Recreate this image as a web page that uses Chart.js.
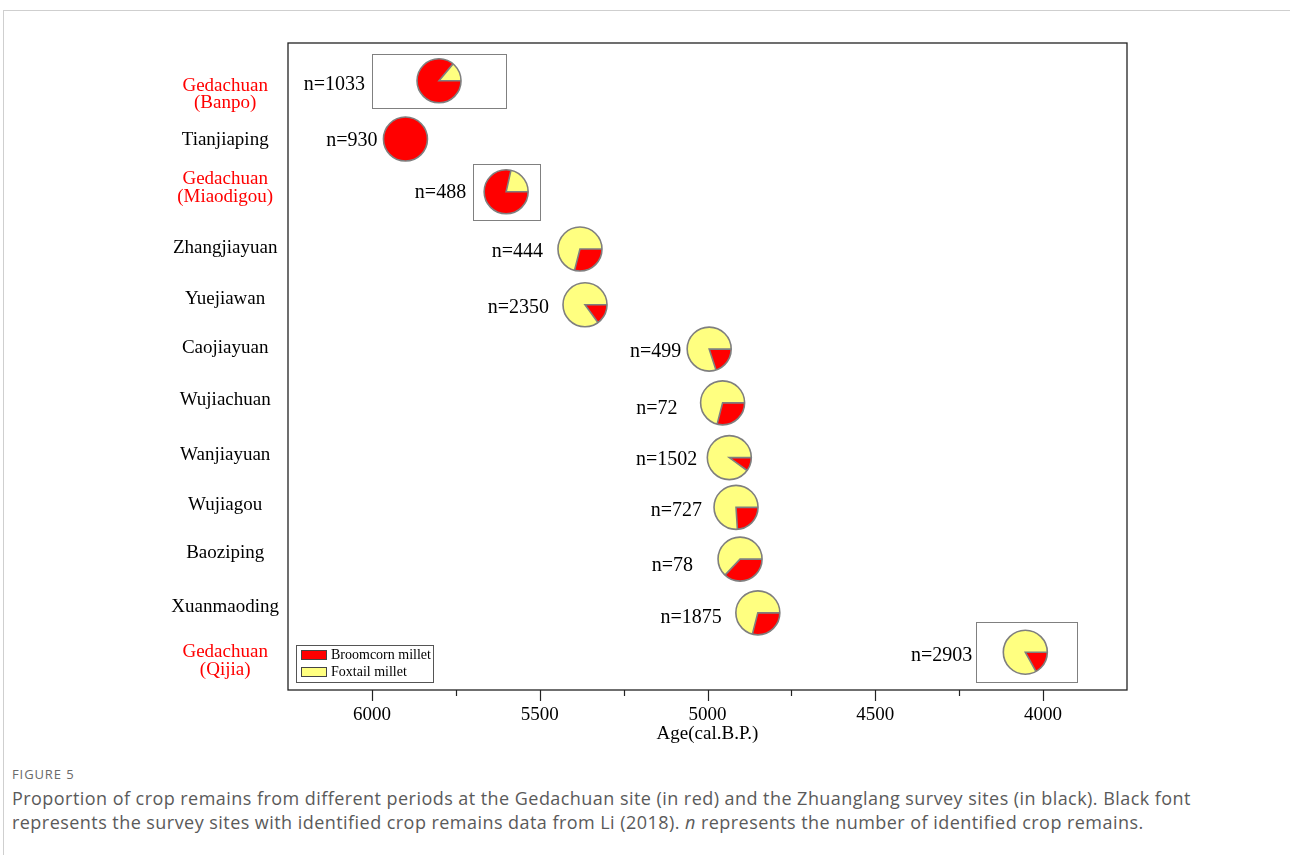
<!DOCTYPE html>
<html>
<head>
<meta charset="utf-8">
<script src="https://cdn.jsdelivr.net/npm/chart.js@4/dist/chart.umd.min.js"></script>
<style>
    html, body { margin: 0; padding: 0; background: #fff; }
    body { width: 1290px; height: 855px; position: relative; overflow: hidden; }
    .card { position: absolute; left: 3px; top: 10px; width: 1300px; height: 900px;
            border-top: 1px solid #cfcfcf; border-left: 1px solid #cfcfcf; }
    .chart-box { position: absolute; left: 0; top: 0; width: 1290px; height: 745px; }
    .fig-label { position: absolute; left: 12px; top: 765px; font-family: "Open Sans", sans-serif;
                 font-size: 13px; letter-spacing: 0.9px; color: #6a6a6a; }
    .fig-caption { position: absolute; left: 12px; top: 786px; width: 1215px; font-family: "Open Sans", sans-serif;
                   font-size: 18px; letter-spacing: 0.45px; line-height: 24px; color: #5a5a5a; }
</style>
</head>
<body>
<div class="card"></div>
<div class="chart-box"><canvas id="crop-chart" width="1290" height="745"></canvas></div>
<div class="fig-label">FIGURE 5</div>
<div class="fig-caption">Proportion of crop remains from different periods at the Gedachuan site (in red) and the Zhuanglang survey sites (in black). Black font represents the survey sites with identified crop remains data from Li (2018). <i>n</i> represents the number of identified crop remains.</div>

<script>
// Sites, top to bottom
const siteLabels = [
    ['Gedachuan', '(Banpo)'], 'Tianjiaping', ['Gedachuan', '(Miaodigou)'], 'Zhangjiayuan',
    'Yuejiawan', 'Caojiayuan', 'Wujiachuan', 'Wanjiayuan', 'Wujiagou', 'Baoziping',
    'Xuanmaoding', ['Gedachuan', '(Qijia)']
];
const isGedachuan = [true, false, true, false, false, false, false, false, false, false, false, true];

// Age of each site (cal. B.P.) and number of identified remains
const siteAges = [5800, 5900, 5600, 5380, 5365, 4995, 4955, 4935, 4915, 4903, 4850, 4053];
const remainCounts = [1033, 930, 488, 444, 2350, 499, 72, 1502, 727, 78, 1875, 2903];

// Share of each crop
const broomcornShare = [0.86, 1.00, 0.785, 0.29, 0.15, 0.20, 0.29, 0.10, 0.24, 0.37, 0.29, 0.17];
const foxtailShare   = [0.14, 0.00, 0.215, 0.71, 0.85, 0.80, 0.71, 0.90, 0.76, 0.63, 0.71, 0.83];

// Row of each label and of each pie on the (reversed) y axis
const labelRows = [1.03, 1.95, 2.91, 4.12, 5.14, 6.13, 7.17, 8.28, 9.28, 10.25, 11.33, 12.42];
const pieRows = [0.76, 1.93, 2.99, 4.14, 5.26, 6.15, 7.23, 8.33, 9.33, 10.37, 11.45, 12.24];

// Cultural periods boxed for the Gedachuan samples (cal. B.P.)
const periodFrom = [6000, null, 5700, null, null, null, null, null, null, null, null, 4200];
const periodTo   = [5600, null, 5500, null, null, null, null, null, null, null, null, 3900];

// Axis ticks
const majorTicks = [6000, 5500, 5000, 4500, 4000];
const minorTicks = [5750, 5250, 4750, 4250];

const cropNames = ['Broomcorn millet', 'Foxtail millet'];

// Styles
const RED = '#ff0000';
const YELLOW = '#ffff80';
const PIE_EDGE = '#7f7f7f';
const PIE_R = 22;
const SERIF = '"Liberation Serif", "Times New Roman", serif';
const labelGap = [52, 6, 18, 15, 14, 6, 23, 10, 12, 25, 14, 31];
const labelDy = [4, 2, 1, 3, 3, 3, 6, 2, 3, 7, 5, 4];
const boxHalf = [27, 0, 28, 0, 0, 0, 0, 0, 0, 0, 0, 30];

// Draws the frame, axis ticks, boxes, pies, n labels and legend
const piePlugin = {
    id: 'pies',
    afterDraw(chart) {
        const ctx = chart.ctx;
        const area = chart.chartArea;
        const xs = chart.scales.x;
        const points = chart.getDatasetMeta(0).data;

        ctx.save();

        // plot frame
        ctx.strokeStyle = '#222';
        ctx.lineWidth = 1.3;
        ctx.strokeRect(area.left, area.top, area.right - area.left, area.bottom - area.top);

        // x ticks below the axis
        ctx.lineWidth = 1.2;
        majorTicks.forEach(v => {
            const px = Math.round(xs.getPixelForValue(v)) + 0.5;
            ctx.beginPath();
            ctx.moveTo(px, area.bottom);
            ctx.lineTo(px, area.bottom + 11);
            ctx.stroke();
        });
        minorTicks.forEach(v => {
            const px = Math.round(xs.getPixelForValue(v)) + 0.5;
            ctx.beginPath();
            ctx.moveTo(px, area.bottom);
            ctx.lineTo(px, area.bottom + 6);
            ctx.stroke();
        });

        points.forEach((pt, i) => {
            const cx = pt.x;
            const cy = pt.y;

            // period box
            if (periodFrom[i] !== null) {
                const x1 = xs.getPixelForValue(periodFrom[i]);
                const x2 = xs.getPixelForValue(periodTo[i]);
                ctx.strokeStyle = '#808080';
                ctx.lineWidth = 1;
                ctx.strokeRect(Math.round(x1) + 0.5, Math.round(cy - boxHalf[i]) + 0.5,
                    Math.round(x2 - x1), Math.round(boxHalf[i] * 2));
            }

            // pie: broomcorn from 3 o'clock clockwise, then foxtail
            const a1 = 2 * Math.PI * broomcornShare[i];
            const a2 = a1 + 2 * Math.PI * foxtailShare[i];
            if (broomcornShare[i] > 0) {
                ctx.beginPath();
                ctx.moveTo(cx, cy);
                ctx.arc(cx, cy, PIE_R, 0, a1);
                ctx.closePath();
                ctx.fillStyle = RED;
                ctx.fill();
            }
            if (foxtailShare[i] > 0) {
                ctx.beginPath();
                ctx.moveTo(cx, cy);
                ctx.arc(cx, cy, PIE_R, a1, a2);
                ctx.closePath();
                ctx.fillStyle = YELLOW;
                ctx.fill();
            }
            ctx.strokeStyle = PIE_EDGE;
            ctx.lineWidth = 1.6;
            ctx.beginPath();
            ctx.arc(cx, cy, PIE_R, 0, 2 * Math.PI);
            ctx.stroke();
            if (broomcornShare[i] > 0 && foxtailShare[i] > 0) {
                ctx.beginPath();
                ctx.moveTo(cx + PIE_R * Math.cos(a1), cy + PIE_R * Math.sin(a1));
                ctx.lineTo(cx, cy);
                ctx.lineTo(cx + PIE_R, cy);
                ctx.stroke();
            }

            // n label
            ctx.fillStyle = '#000';
            ctx.font = '20px ' + SERIF;
            ctx.textAlign = 'right';
            ctx.textBaseline = 'middle';
            ctx.fillText('n=' + remainCounts[i], cx - PIE_R - labelGap[i], cy + labelDy[i]);
        });

        // legend, bottom-left inside the plot
        const lx = area.left + 8;
        const ly = area.bottom - 45;
        ctx.strokeStyle = '#555';
        ctx.lineWidth = 1;
        ctx.strokeRect(lx + 0.5, ly + 0.5, 137, 37);
        [RED, YELLOW].forEach((color, k) => {
            const ry = ly + 5 + k * 17;
            ctx.fillStyle = color;
            ctx.fillRect(lx + 5, ry, 26, 10);
            ctx.strokeStyle = '#444';
            ctx.strokeRect(lx + 5.5, ry + 0.5, 25, 9);
            ctx.fillStyle = '#000';
            ctx.font = '14px ' + SERIF;
            ctx.textAlign = 'left';
            ctx.textBaseline = 'middle';
            ctx.fillText(cropNames[k], lx + 35, ry + 5.5);
        });

        ctx.restore();
    }
};

function renderChart() {
    const ctx = document.getElementById('crop-chart').getContext('2d');

    new Chart(ctx, {
        type: 'scatter',
        data: {
            datasets: [{
                label: 'Sites',
                data: siteAges.map((age, i) => ({ x: age, y: pieRows[i] })),
                pointRadius: 0,
                pointHoverRadius: 0
            }]
        },
        options: {
            responsive: false,
            animation: false,
            events: [],
            layout: { padding: { left: 168, right: 163, top: 43, bottom: 0 } },
            plugins: {
                legend: { display: false },
                tooltip: { enabled: false }
            },
            scales: {
                x: {
                    type: 'linear',
                    position: 'bottom',
                    reverse: true,
                    min: 3750,
                    max: 6250,
                    afterBuildTicks: scale => {
                        scale.ticks = majorTicks.map(v => ({ value: v }));
                    },
                    afterFit: scale => { scale.height = 55; },
                    grid: { display: false, drawTicks: false },
                    border: { display: false },
                    ticks: {
                        autoSkip: false,
                        maxRotation: 0,
                        padding: 14,
                        color: '#000',
                        font: { family: SERIF, size: 19 },
                        callback: value => String(value)
                    },
                    title: {
                        display: true,
                        text: 'Age(cal.B.P.)',
                        color: '#000',
                        font: { family: SERIF, size: 19 },
                        padding: { top: 0, bottom: 0 }
                    }
                },
                y: {
                    type: 'linear',
                    reverse: true,
                    min: 0,
                    max: 13,
                    afterBuildTicks: scale => {
                        scale.ticks = labelRows.map(v => ({ value: v }));
                    },
                    afterFit: scale => { scale.width = 120; },
                    grid: { display: false, drawTicks: false },
                    border: { display: false },
                    ticks: {
                        autoSkip: false,
                        crossAlign: 'center',
                        padding: 9,
                        color: c => isGedachuan[c.index] ? RED : '#000',
                        font: { family: SERIF, size: 19, lineHeight: 0.92 },
                        callback: (value, index) => siteLabels[index]
                    }
                }
            }
        },
        plugins: [piePlugin]
    });
}

document.addEventListener('DOMContentLoaded', renderChart);
</script>
</body>
</html>
